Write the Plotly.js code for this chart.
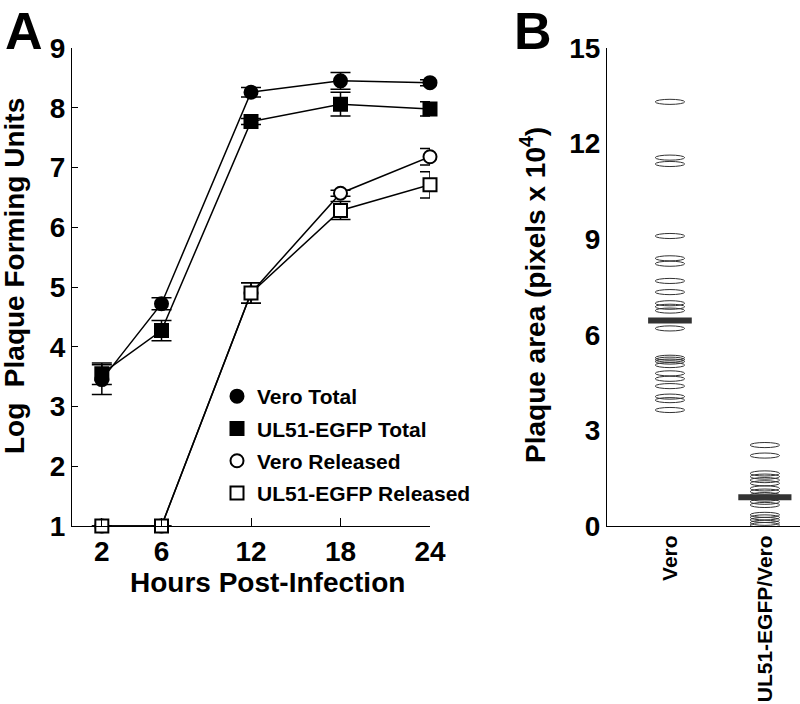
<!DOCTYPE html>
<html>
<head>
<meta charset="utf-8">
<script src="https://cdn.plot.ly/plotly-3.0.1.min.js"></script>
<style>html,body{margin:0;padding:0;background:#fff;}#chart{width:800px;height:704px;}</style>
</head>
<body>
<div id="chart"></div>
<script>
// ---- Panel A data ----
const hours = [2, 6, 12, 18, 24];
const veroTotal = [3.45, 4.72, 8.26, 8.45, 8.42];
const veroTotalErr = [0.25, 0.1, 0.08, 0.14, 0.05];
const ul51Total = [3.55, 4.27, 7.77, 8.06, 7.98];
const ul51TotalErr = [0.18, 0.17, 0.05, 0.2, 0.12];
const veroReleased = [1, 1, 4.9, 6.57, 7.18];
const veroReleasedErr = [0, 0, 0.17, 0.05, 0.14];
const ul51Released = [1, 1, 4.9, 6.28, 6.71];
const ul51ReleasedErr = [0, 0, 0.17, 0.15, 0.22];
const seriesNames = ['Vero Total', 'UL51-EGFP Total', 'Vero Released', 'UL51-EGFP Released'];

// ---- Panel B data ----
const groups = ['Vero', 'UL51-EGFP/Vero'];
const veroArea = [13.31, 11.56, 11.36, 9.1, 8.4, 8.23, 7.69, 7.34, 6.99, 6.88, 6.76, 6.2,
  5.28, 5.22, 5.16, 5.05, 4.79, 4.62, 4.39, 4.06, 3.95, 3.64];
const ul51Area = [2.54, 2.21, 1.65, 1.55, 1.44, 1.34, 1.18, 1.08, 0.97, 0.86, 0.76, 0.66,
  0.35, 0.27, 0.19, 0.1, 0.03];
const meanArea = [6.45, 0.9];

const FONT = 'Liberation Sans, Arial, Helvetica, sans-serif';
const bold = (size) => ({family: FONT, size: size, color: '#000', weight: 'bold'});

const series = [
  {name: seriesNames[0], y: veroTotal, err: veroTotalErr, symbol: 'circle', filled: true},
  {name: seriesNames[1], y: ul51Total, err: ul51TotalErr, symbol: 'square', filled: true},
  {name: seriesNames[2], y: veroReleased, err: veroReleasedErr, symbol: 'circle', filled: false},
  {name: seriesNames[3], y: ul51Released, err: ul51ReleasedErr, symbol: 'square', filled: false}
];

const traces = [];
// connecting lines + error bars
series.forEach(s => {
  traces.push({
    type: 'scatter', mode: 'lines', showlegend: false, hoverinfo: 'skip',
    x: hours, y: s.y, xaxis: 'x', yaxis: 'y', cliponaxis: false,
    line: {color: '#000', width: 1.5},
    error_y: {type: 'data', array: s.err, visible: true, color: '#000', thickness: 1.5, width: 10}
  });
});
// markers (legend entries)
series.forEach((s, i) => {
  traces.push({
    type: 'scatter', mode: 'markers', name: s.name, legendgroup: 'g' + i,
    x: hours, y: s.y, xaxis: 'x', yaxis: 'y', cliponaxis: false,
    marker: {symbol: s.symbol, size: 13, color: s.filled ? '#000' : '#fff',
             line: {color: '#000', width: 2}}
  });
});

// invisible points for panel B (hover / axis binding)
const areaSets = [veroArea, ul51Area];
areaSets.forEach((arr, gi) => {
  traces.push({
    type: 'scatter', mode: 'markers', showlegend: false, hoverinfo: 'y',
    x: arr.map(() => gi), y: arr, xaxis: 'x2', yaxis: 'y2',
    marker: {size: 6, opacity: 0}
  });
});

// ellipse and mean-bar shapes built from the data arrays
const shapes = [];
const halfW = 0.155, halfH = 0.08;
areaSets.forEach((arr, gi) => {
  arr.forEach(v => {
    shapes.push({type: 'circle', xref: 'x2', yref: 'y2',
      x0: gi - halfW, x1: gi + halfW, y0: v - halfH, y1: v + halfH,
      line: {color: '#333', width: 1}, fillcolor: 'rgba(0,0,0,0)'});
  });
});
const meanHalf = [0.23, 0.28];
meanArea.forEach((m, gi) => {
  shapes.push({type: 'line', xref: 'x2', yref: 'y2',
    x0: gi - meanHalf[gi], x1: gi + meanHalf[gi], y0: m, y1: m,
    line: {color: '#333', width: 6}});
});

const W = 800, H = 704;
const px = (x) => x / W;
const py = (y) => (H - y) / H;

const layout = {
  width: W, height: H,
  margin: {l: 0, r: 0, t: 0, b: 0},
  paper_bgcolor: '#fff', plot_bgcolor: 'rgba(0,0,0,0)',
  font: bold(20),
  showlegend: true,
  legend: {
    x: px(217), y: py(376), xanchor: 'left', yanchor: 'top',
    bgcolor: 'rgba(0,0,0,0)', borderwidth: 0,
    font: bold(21), traceorder: 'grouped', tracegroupgap: 2
  },
  xaxis: {
    domain: [px(72), px(430)], range: [0, 24], anchor: 'y',
    tickvals: hours, ticks: 'inside', ticklen: 8, tickwidth: 1, tickcolor: '#000',
    showline: true, linecolor: '#000', linewidth: 1, showgrid: false, zeroline: false,
    tickfont: bold(28)
  },
  yaxis: {
    domain: [py(526), py(48)], range: [1, 9], anchor: 'x',
    tickvals: [1, 2, 3, 4, 5, 6, 7, 8, 9], ticks: 'inside', ticklen: 6, tickwidth: 1, tickcolor: '#000',
    showline: true, linecolor: '#000', linewidth: 1, showgrid: false, zeroline: false,
    tickfont: bold(28)
  },
  xaxis2: {
    domain: [px(607), 1], range: [-0.663, 1.37], anchor: 'y2',
    tickvals: [0, 1], ticktext: groups, tickangle: -90, ticks: '',
    showline: true, linecolor: '#000', linewidth: 1, showgrid: false, zeroline: false,
    tickfont: bold(21)
  },
  yaxis2: {
    domain: [py(526), py(48)], range: [0, 15], anchor: 'x2',
    tickvals: [0, 3, 6, 9, 12, 15], ticks: '',
    showline: true, linecolor: '#000', linewidth: 1, showgrid: false, zeroline: false,
    tickfont: bold(28)
  },
  shapes: shapes,
  annotations: [
    {text: 'A', xref: 'paper', yref: 'paper', x: px(3), y: py(0), xanchor: 'left', yanchor: 'top',
     showarrow: false, font: bold(52)},
    {text: 'B', xref: 'paper', yref: 'paper', x: px(512), y: py(0), xanchor: 'left', yanchor: 'top',
     showarrow: false, font: bold(52)},
    {text: 'Hours Post-Infection', xref: 'paper', yref: 'paper', x: px(267), y: py(582),
     xanchor: 'center', yanchor: 'middle', showarrow: false, font: bold(28)},
    {text: 'Log  Plaque Forming Units', xref: 'paper', yref: 'paper', x: px(14), y: py(276),
     xanchor: 'center', yanchor: 'middle', textangle: -90, showarrow: false, font: bold(28)},
    {text: 'Plaque area (pixels x 10<sup>4</sup>)', xref: 'paper', yref: 'paper', x: px(533), y: py(295),
     xanchor: 'center', yanchor: 'middle', textangle: -90, showarrow: false, font: bold(28)}
  ]
};

Plotly.newPlot('chart', traces, layout, {displayModeBar: false, staticPlot: true});
</script>
</body>
</html>
